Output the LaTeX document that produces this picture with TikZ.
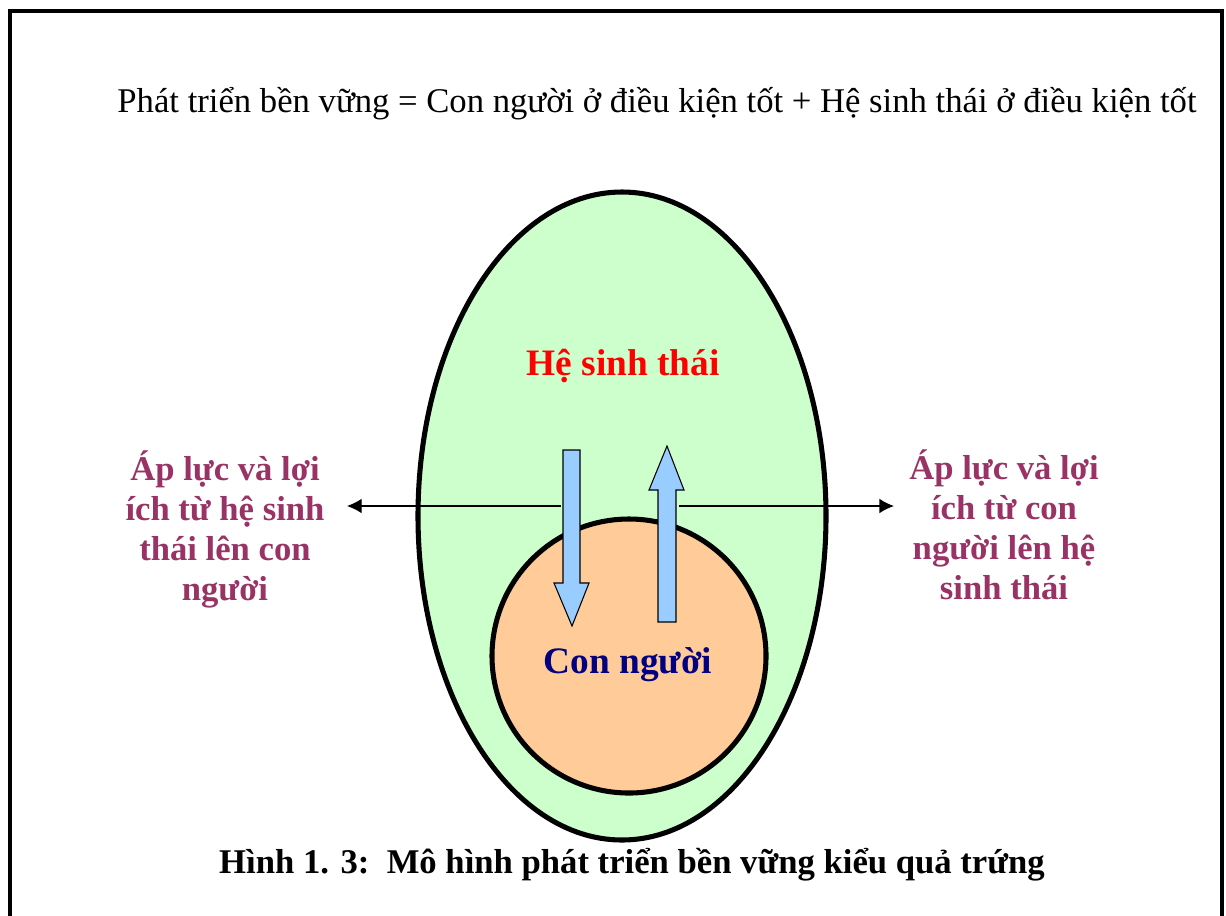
\documentclass[tikz,border=0pt]{standalone}
\usepackage{fontspec}
\setmainfont{Liberation Serif}
\usetikzlibrary{arrows.meta}

\definecolor{eggwhite}{HTML}{CCFFCC}
\definecolor{yolk}{HTML}{FFCC99}
\definecolor{flowblue}{HTML}{99CCFF}
\definecolor{plum}{HTML}{993366}
\definecolor{navyblue}{HTML}{000080}

\tikzset{
  lbl/.style={font=\fontsize{26}{30}\selectfont\bfseries, text=plum, align=center},
  blockarrow/.style={draw, fill=flowblue, line width=0.8pt, line join=miter},
}

\begin{document}
\begin{tikzpicture}[x=0.75pt,y=-0.75pt]
\useasboundingbox (0,0) rectangle (1226,915);

% frame
\draw[line width=3pt] (10,940) -- (10,11) -- (1222,11) -- (1222,940);

\node[font=\fontsize{26}{30}\selectfont] (eq) at (657,104) {Phát triển bền vững = Con người ở điều kiện tốt + Hệ sinh thái ở điều kiện tốt};

% egg
\draw[line width=3.8pt, fill=eggwhite] (622,516) ellipse (204 and 324);
\draw[line width=3.8pt, fill=yolk] (629,656) circle (137);

\node[font=\fontsize{28}{32}\selectfont\bfseries, text=red] (eco) at (623,366) {Hệ sinh thái};
\node[font=\fontsize{28}{32}\selectfont\bfseries, text=navyblue] (man) at (628,665) {Con người};

% block arrows
\draw[blockarrow] (563,450) -- (580,450) -- (580,583) -- (589,583) -- (572,626)
  -- (554,583) -- (563,583) -- cycle;
\draw[blockarrow] (658,622) -- (676,622) -- (676,490) -- (684,490) -- (667,446)
  -- (649,490) -- (658,490) -- cycle;

\coordinate (dn) at (561,506);
\coordinate (up) at (679,506);
\coordinate (lt) at (347,506);
\coordinate (rt) at (894,506);

\node[lbl] (left) at (225,529) {Áp lực và lợi\\ích từ hệ sinh\\thái lên con\\người};
\node[lbl] (right) at (1004,525) {Áp lực và lợi\\ích từ con\\người lên hệ\\sinh thái};

\path[draw,line width=1pt,-{Latex[length=11pt,width=11pt]}] (dn) -- (lt);
\path[draw,line width=1pt,-{Latex[length=11pt,width=11pt]}] (up) -- (rt);

\node[font=\fontsize{26}{30}\selectfont\bfseries] (cap) at (632,865) {Hình 1. 3:\ \ Mô hình phát triển bền vững kiểu quả trứng};
\end{tikzpicture}
\end{document}
